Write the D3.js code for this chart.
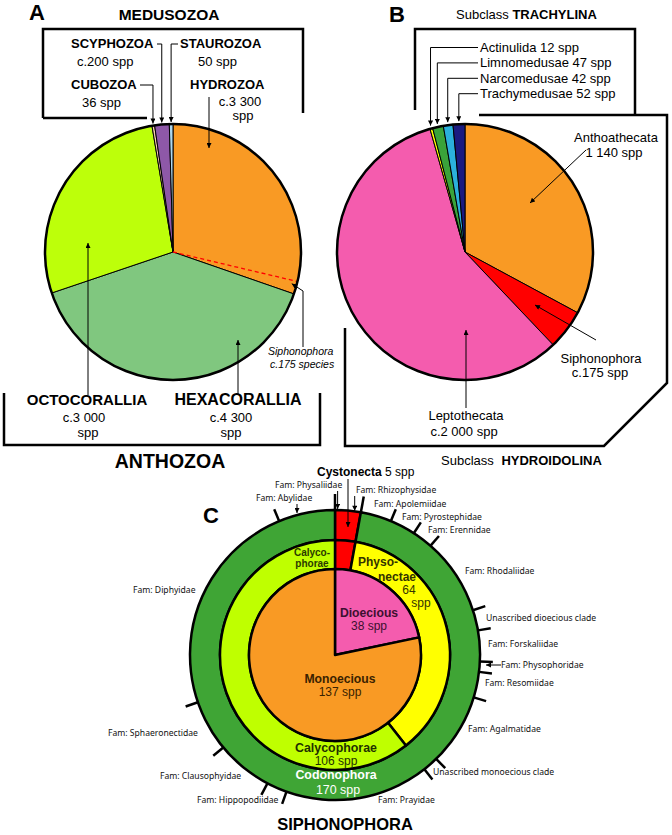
<!DOCTYPE html>
<html><head><meta charset="utf-8">
<script src="https://cdn.jsdelivr.net/npm/d3@7"></script>
<style>body{margin:0;background:#fff}svg{display:block}</style>
</head><body>
<svg id="chart" width="672" height="835"></svg>
<script>
// ---------- DATA ----------
// Panel A: Cnidaria
const cnidariaGroups = ["Hydrozoa","Hexacorallia","Octocorallia","Cubozoa","Scyphozoa","Staurozoa"];
const cnidariaSpecies = [3300, 4300, 3000, 36, 200, 50];
const cnidariaSpeciesText = ["c.3 300", "c.4 300", "c.3 000", "36 spp", "c.200 spp", "50 spp"];
const siphonophoraSpecies = 175;

// Panel B: Hydrozoa
const hydrozoaOrders = ["Anthoathecata","Siphonophora","Leptothecata","Actinulida","Limnomedusae","Narcomedusae","Trachymedusae"];
const hydrozoaSpecies = [1140, 175, 2000, 12, 47, 42, 52];
const hydrozoaSpeciesText = ["1 140 spp","c.175 spp","c.2 000 spp","12 spp","47 spp","42 spp","52 spp"];

// Panel C: Siphonophora
const reproduction = ["Dioecious","Monoecious"];
const reproductionSpecies = [38, 137];
const suborders = ["Cystonecta","Physonectae","Calycophorae"];
const subordersSpecies = [5, 64, 106];
const clades = ["Cystonecta","Codonophora"];
const cladeSpecies = [5, 170];
const families = ["Physaliidae","Rhizophysidae","Apolemiidae","Pyrostephidae","Erennidae","Rhodaliidae",
  "Unascribed dioecious clade","Forskaliidae","Physophoridae","Resomiidae","Agalmatidae",
  "Unascribed monoecious clade","Prayidae","Hippopodiidae","Clausophyidae","Sphaeronectidae","Diphyidae","Abylidae"];
const familySpecies = [1, 4, 6, 5, 4, 15, 4, 6, 2, 5, 14, 3, 28, 4, 11, 10, 42, 11];

// ---------- STYLE ----------
const colA = ["#F99A24","#80C77F","#BDFF0A","#F8CBAD","#8E58A8","#ADD8F0"];
const colB = ["#F99A24","#FF0000","#F45CAE","#FFFF00","#3AA33A","#2BB0DC","#1A1A80"];
const colRepro = ["#F45CAE","#F99A24"];
const colSub = ["#FF0000","#FFFF00","#BFFF00"];
const colClade = ["#FF0000","#3FA535"];
const ARIAL = "'Liberation Sans', Arial, sans-serif";
const FAMFONT = "'Noto Sans', 'Open Sans', sans-serif";

const svg = d3.select("#chart");
svg.append("rect").attr("width",672).attr("height",835).attr("fill","#fff");
const defs = svg.append("defs");
defs.append("marker").attr("id","ah").attr("viewBox","0 0 10 10").attr("refX",10).attr("refY",5)
  .attr("markerWidth",7).attr("markerHeight",6).attr("markerUnits","userSpaceOnUse").attr("orient","auto")
  .append("path").attr("d","M0,0L10,5L0,10z").attr("fill","#000");
defs.append("marker").attr("id","ahs").attr("viewBox","0 0 10 10").attr("refX",10).attr("refY",5)
  .attr("markerWidth",6).attr("markerHeight",5).attr("markerUnits","userSpaceOnUse").attr("orient","auto")
  .append("path").attr("d","M0,0L10,5L0,10z").attr("fill","#000");

function txt(x, y, s, size, weight, anchor, extra) {
  const t = svg.append("text").attr("x",x).attr("y",y).text(s)
    .attr("font-family",ARIAL).attr("font-size",size).attr("font-weight",weight||"normal")
    .attr("text-anchor",anchor||"start").attr("fill","#000");
  if (extra) extra(t);
  return t;
}
function line(pts, w, marker) {
  return svg.append("path").attr("d", d3.line()(pts)).attr("fill","none").attr("stroke","#000")
    .attr("stroke-width", w || 1).attr("marker-end", marker ? "url(#"+marker+")" : null);
}
function polar(cx, cy, r, a) { return [cx + r*Math.sin(a), cy - r*Math.cos(a)]; }
const mid = d => (d.startAngle + d.endAngle) / 2;

const pie = d3.pie().sort(null).value(d => d);

// ---------- PANEL A ----------
const A = {cx:173, cy:252, r:128};
const arcsA = pie(cnidariaSpecies);
const gA = svg.append("g").attr("transform",`translate(${A.cx},${A.cy})`);
const arcA = d3.arc().innerRadius(0).outerRadius(A.r);
gA.selectAll("path").data(arcsA).join("path").attr("d",arcA)
  .attr("fill",(d,i)=>colA[i]).attr("stroke","#000").attr("stroke-width",1);
// Siphonophora share inside Hydrozoa (dashed)
const siphA = arcsA[0].endAngle - siphonophoraSpecies / d3.sum(cnidariaSpecies) * 2 * Math.PI;
gA.append("line").attr("x1",0).attr("y1",0)
  .attr("x2",A.r*Math.sin(siphA)).attr("y2",-A.r*Math.cos(siphA))
  .attr("stroke","#FF0000").attr("stroke-width",1.3).attr("stroke-dasharray","4,3");
gA.append("circle").attr("r",A.r).attr("fill","none").attr("stroke","#000").attr("stroke-width",2.5);

txt(29,20,"A",22,"bold");
txt(169,20,"MEDUSOZOA",15.5,"bold","middle");
line([[43,118],[43,29],[303,29],[303,113]],2.5);
line([[43,118],[147,118]],2.5);

txt(71,48,cnidariaGroups[4].toUpperCase(),13,"bold");
txt(77,66,cnidariaSpeciesText[4],13);
txt(180,48,cnidariaGroups[5].toUpperCase(),13,"bold");
txt(198,66,cnidariaSpeciesText[5],13);
txt(71,89,cnidariaGroups[3].toUpperCase(),13,"bold");
txt(82,107,cnidariaSpeciesText[3],13);
txt(190,89,cnidariaGroups[0].toUpperCase(),13,"bold");
txt(240,106,cnidariaSpeciesText[0],13,"normal","middle");
txt(243,120,"spp",13,"normal","middle");

function tipA(i){ return polar(A.cx,A.cy,A.r+2,mid(arcsA[i])); }
{ const t = tipA(4); line([[157,44],[t[0],44],[t[0],t[1]]],1,"ahs"); }
{ const t = tipA(5); line([[178,44],[t[0],44],[t[0],t[1]]],1,"ahs"); }
{ const t = tipA(3); line([[140,85],[t[0],85],[t[0],t[1]]],1,"ahs"); }
line([[209,97],[209,148]],1,"ahs");
line([[88,395],[88,243]],1,"ahs");
line([[238,395],[238,340]],1,"ahs");
// Siphonophora callout
{ const p = polar(A.cx,A.cy,A.r-6,siphA+0.03); line([[303,347],[303,291],[p[0]+1,p[1]]],1,"ahs"); }
txt(268,355,"Siphonophora",10.5,"normal","start",t=>t.attr("font-style","italic"));
txt(270,368,"c.175 species",10.5,"normal","start",t=>t.attr("font-style","italic"));

txt(87,405,cnidariaGroups[2].toUpperCase(),15,"bold","middle");
txt(84,422,cnidariaSpeciesText[2],13,"normal","middle");
txt(88,437,"spp",13,"normal","middle");
txt(238,405,cnidariaGroups[1].toUpperCase(),16,"bold","middle");
txt(231,422,cnidariaSpeciesText[1],13,"normal","middle");
txt(231,437,"spp",13,"normal","middle");
line([[4,393],[4,445],[320,445],[320,393]],2.5);
txt(170,468,"ANTHOZOA",19.5,"bold","middle");

// ---------- PANEL B ----------
const B = {cx:465, cy:252, r:128};
const arcsB = pie(hydrozoaSpecies);
const gB = svg.append("g").attr("transform",`translate(${B.cx},${B.cy})`);
gB.selectAll("path").data(arcsB).join("path").attr("d",d3.arc().innerRadius(0).outerRadius(B.r))
  .attr("fill",(d,i)=>colB[i]).attr("stroke","#000").attr("stroke-width",1);
gB.append("circle").attr("r",B.r).attr("fill","none").attr("stroke","#000").attr("stroke-width",2.5);

txt(389,22,"B",22,"bold");
txt(456,19,"Subclass ",13,"normal","start",t=>t.append("tspan").attr("font-weight","bold").text("TRACHYLINA"));
line([[415,110],[415,29],[635,29],[635,115]],2.5);
line([[479,115],[667,115],[667,383],[604,446],[345,446],[345,328]],2.5);
[3,4,5,6].forEach((i,k)=>{
  const y = 52 + k*15.4;
  txt(480,y,hydrozoaOrders[i]+" "+hydrozoaSpeciesText[i],13);
  const t = polar(B.cx,B.cy,B.r+3,mid(arcsB[i]));
  line([[478,y-4.5],[t[0],y-4.5],[t[0],t[1]]],1,"ahs");
});
txt(616,142,hydrozoaOrders[0],13,"normal","middle");
txt(614,157,hydrozoaSpeciesText[0],13,"normal","middle");
line([[586,150],[530,203]],1,"ahs");
txt(601,363,hydrozoaOrders[1],13,"normal","middle");
txt(600,377,hydrozoaSpeciesText[1],13,"normal","middle");
line([[596,340],[535,305]],1,"ahs");
txt(466,420,hydrozoaOrders[2],13,"normal","middle");
txt(464,436,hydrozoaSpeciesText[2],13,"normal","middle");
line([[466,408],[466,330]],1,"ahs");
txt(441,465,"Subclass ",13,"normal","start",t=>t.append("tspan").attr("font-weight","bold").attr("dx",4).text("HYDROIDOLINA"));

// ---------- PANEL C ----------
const C = {cx:335, cy:655, r1:86, r2:115, r3:145};
const gC = svg.append("g").attr("transform",`translate(${C.cx},${C.cy})`);
const arcsRep = pie(reproductionSpecies);
const arcsSub = pie(subordersSpecies);
const arcsClade = pie(cladeSpecies);
const arcsFam = pie(familySpecies);
gC.append("g").selectAll("path").data(arcsClade).join("path")
  .attr("d",d3.arc().innerRadius(C.r2).outerRadius(C.r3))
  .attr("fill",(d,i)=>colClade[i]).attr("stroke","#000").attr("stroke-width",2.5);
gC.append("g").selectAll("path").data(arcsSub).join("path")
  .attr("d",d3.arc().innerRadius(C.r1).outerRadius(C.r2))
  .attr("fill",(d,i)=>colSub[i]).attr("stroke","#000").attr("stroke-width",2.5);
gC.append("g").selectAll("path").data(arcsRep).join("path")
  .attr("d",d3.arc().innerRadius(0).outerRadius(C.r1))
  .attr("fill",(d,i)=>colRepro[i]).attr("stroke","#000").attr("stroke-width",2.5).attr("stroke-linejoin","round");
// family boundary ticks
const tickAngles = arcsFam.filter((d,i)=>i!==1).map(d=>d.startAngle);
gC.append("g").selectAll("line").data(tickAngles).join("line")
  .attr("x1",a=>(C.r3)*Math.sin(a)).attr("y1",a=>-(C.r3)*Math.cos(a))
  .attr("x2",(a,i)=>(C.r3+(i<2?16:13))*Math.sin(a)).attr("y2",(a,i)=>-(C.r3+(i<2?16:13))*Math.cos(a))
  .attr("stroke","#000").attr("stroke-width",2.5);

txt(203,523,"C",22,"bold");
txt(317,476,"Cystonecta",12,"bold","start",t=>t.append("tspan").attr("font-weight","normal").text(" "+subordersSpecies[0]+" spp"));
line([[348,479],[348,527]],1,"ahs");

const famLayout = {
  "Physaliidae":[275,488], "Rhizophysidae":[356,493], "Apolemiidae":[374,507], "Pyrostephidae":[402,520],
  "Erennidae":[428,533], "Rhodaliidae":[465,574], "Unascribed dioecious clade":[486,621],
  "Forskaliidae":[488,647], "Physophoridae":[501,668], "Resomiidae":[485,686], "Agalmatidae":[468,732],
  "Unascribed monoecious clade":[433,775], "Prayidae":[378,803], "Hippopodiidae":[197,803],
  "Clausophyidae":[160,779], "Sphaeronectidae":[108,736], "Diphyidae":[133,593], "Abylidae":[256,501]
};
families.forEach(f=>{
  const p = famLayout[f];
  const s = f.startsWith("Unascribed") ? f : "Fam: " + f;
  svg.append("text").attr("x",p[0]).attr("y",p[1]).text(s).attr("font-family",FAMFONT)
    .attr("font-size",8.6).attr("fill","#111");
});
// family arrows
{ const t = polar(C.cx,C.cy,C.r3+1,mid(arcsFam[0])); line([[t[0],491],[t[0],t[1]]],1,"ahs"); }
{ const t = polar(C.cx,C.cy,C.r3+1,mid(arcsFam[1])); line([[t[0]+4,496],[t[0]+4,t[1]+1]],1,"ahs"); }
line([[297,504],[297,513]],1,"ahs");
line([[501,665],[486,665]],1,"ahs");

// ring labels
const dark = "#1a1a1a";
svg.append("g").attr("font-family",ARIAL).call(g=>{
  const T=(x,y,s,size,w,fill,anchor)=>g.append("text").attr("x",x).attr("y",y).text(s).attr("font-size",size)
    .attr("font-weight",w).attr("fill",fill).attr("text-anchor",anchor||"middle");
  T(312,556,"Calyco-",10,"bold","#2a3a00");
  T(312,567,"phorae",10,"bold","#2a3a00");
  T(358,566,"Physo-",12,"bold","#333300","start");
  T(378,581,"nectae",12,"bold","#333300","start");
  T(409,594,String(subordersSpecies[1]),12,"normal","#333300");
  T(421,607,"spp",12,"normal","#333300");
  T(369,617,reproduction[0],12.2,"bold","#3d1030");
  T(369,630,reproductionSpecies[0]+" spp",12,"normal","#3d1030");
  T(340,683,reproduction[1],12.2,"bold","#3a2200");
  T(340,696,reproductionSpecies[1]+" spp",12,"normal","#3a2200");
  T(336,752,suborders[2],12.4,"bold","#1f3000");
  T(336,765,subordersSpecies[2]+" spp",12,"normal","#1f3000");
  T(336,779,clades[1],12.4,"bold","#ffffff");
  T(338,794,cladeSpecies[1]+" spp",12.4,"normal","#ffffff");
});
txt(345,830,"SIPHONOPHORA",16.5,"bold","middle");
</script>
</body></html>
